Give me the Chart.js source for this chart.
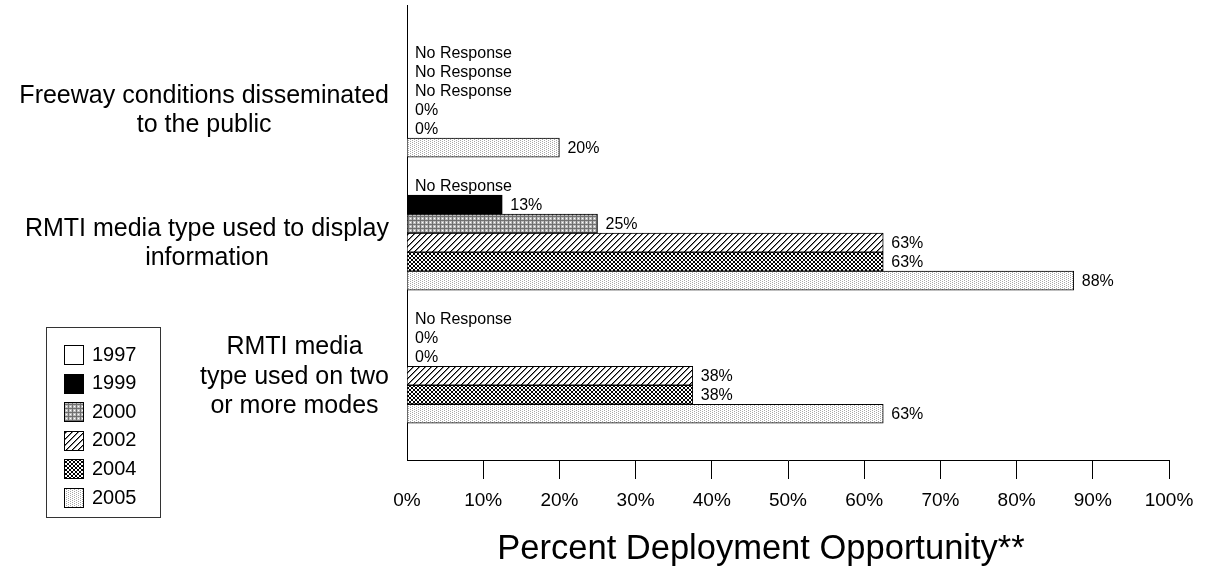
<!DOCTYPE html>
<html>
<head>
<meta charset="utf-8">
<script src="https://cdn.jsdelivr.net/npm/chart.js@4.4.0/dist/chart.umd.min.js"></script>
<style>
  html, body { margin: 0; padding: 0; background: #fff; }
  #wrap { width: 1208px; height: 569px; }
</style>
</head>
<body>
<div id="wrap"><canvas id="chart"></canvas></div>
<script>
// categories (one array of lines per label)
const categories = [
  ['Freeway conditions disseminated', 'to the public'],
  ['RMTI media type used to display', 'information'],
  ['RMTI media', 'type used on two', 'or more modes']
];
const years = ['1997', '1999', '2000', '2002', '2004', '2005'];

// percent of deployment opportunity, null = No Response
const v1997 = [null, null, null];
const v1999 = [null, 12.5, 0];
const v2000 = [null, 25, 0];
const v2002 = [0, 62.5, 37.5];
const v2004 = [0, 62.5, 37.5];
const v2005 = [20, 87.5, 62.5];
const seriesValues = [v1997, v1999, v2000, v2002, v2004, v2005];

const xTickValues = [0, 10, 20, 30, 40, 50, 60, 70, 80, 90, 100];
const xTitle = 'Percent Deployment Opportunity**';
const FONT = '"Liberation Sans", Arial, sans-serif';

const canvas = document.getElementById('chart');
const ctx = canvas.getContext('2d');

function makePattern(w, h, draw) {
  const c = document.createElement('canvas');
  c.width = w; c.height = h;
  const g = c.getContext('2d');
  g.fillStyle = '#fff';
  g.fillRect(0, 0, w, h);
  draw(g);
  return ctx.createPattern(c, 'repeat');
}

const fills = [
  '#ffffff',
  '#000000',
  makePattern(4, 4, g => {
    g.fillStyle = '#bcbcbc'; g.fillRect(0, 0, 4, 4);
    g.fillStyle = '#707070'; g.fillRect(0, 0, 4, 1); g.fillRect(0, 0, 1, 4);
    g.fillStyle = '#ffffff'; g.fillRect(2, 2, 1, 1);
  }),
  makePattern(6, 6, g => {
    g.fillStyle = '#000';
    for (let i = 0; i < 6; i++) g.fillRect(5 - i, i, 1, 1);
    g.fillStyle = '#808080';
    for (let i = 0; i < 6; i++) g.fillRect((6 - i) % 6, i, 1, 1);
  }),
  makePattern(4, 4, g => {
    g.fillStyle = '#000';
    for (let i = 0; i < 4; i++) {
      g.fillRect(i, i, 1, 1);
      g.fillRect(i, 3 - i, 1, 1);
    }
  }),
  makePattern(4, 2, g => {
    g.fillStyle = '#a8a8a8';
    g.fillRect(0, 0, 1, 1);
    g.fillRect(2, 1, 1, 1);
  })
];

const barLabels = {
  id: 'barLabels',
  afterDatasetsDraw(chart) {
    const c = chart.ctx;
    c.save();
    c.font = '16px ' + FONT;
    c.fillStyle = '#000';
    c.textBaseline = 'middle';
    c.textAlign = 'left';
    chart.data.datasets.forEach((ds, di) => {
      const meta = chart.getDatasetMeta(di);
      meta.data.forEach((el, i) => {
        const v = seriesValues[di][i];
        const txt = v === null ? 'No Response' : Math.round(v) + '%';
        c.fillText(txt, el.x + 8, el.y + 1);
      });
    });
    c.restore();
  }
};

const catLabels = {
  id: 'catLabels',
  afterDraw(chart) {
    const c = chart.ctx;
    const yScale = chart.scales.y;
    const right = chart.chartArea.left - 18;
    const lineH = 29.5;
    c.save();
    c.font = '25px ' + FONT;
    c.fillStyle = '#000';
    c.textBaseline = 'middle';
    c.textAlign = 'center';
    categories.forEach((lines, i) => {
      const maxW = Math.max(...lines.map(l => c.measureText(l).width));
      const cx = right - maxW / 2;
      const cy = yScale.getPixelForValue(i) + 10.5;
      const y0 = cy - (lines.length - 1) * lineH / 2;
      lines.forEach((l, j) => c.fillText(l, cx, y0 + j * lineH));
    });
    // axis title
    c.font = '34.5px ' + FONT;
    c.fillText(xTitle, 761, 549);
    c.restore();
  }
};

const boxLegend = {
  id: 'boxLegend',
  afterDraw(chart) {
    const c = chart.ctx;
    c.save();
    c.strokeStyle = '#333';
    c.lineWidth = 1;
    c.strokeRect(46.5, 327.5, 114, 190);
    c.font = '20px ' + FONT;
    c.textBaseline = 'middle';
    c.textAlign = 'left';
    years.forEach((yr, i) => {
      const cy = 355 + i * 28.6;
      c.fillStyle = fills[i];
      c.fillRect(64, Math.round(cy - 10), 20, 20);
      c.strokeStyle = '#000';
      c.strokeRect(64.5, Math.round(cy - 10) + 0.5, 19, 19);
      c.fillStyle = '#000';
      c.fillText(yr, 92, cy);
    });
    c.restore();
  }
};

new Chart(ctx, {
  type: 'bar',
  data: {
    datasets: years.map((yr, di) => ({
      label: yr,
      data: seriesValues[di].map((v, i) => ({ x: v, y: i })),
      backgroundColor: fills[di],
      borderColor: '#000',
      borderWidth: 1,
      barThickness: 19
    }))
  },
  options: {
    indexAxis: 'y',
    responsive: true,
    maintainAspectRatio: false,
    animation: false,
    layout: { padding: { top: 5, right: 39, left: 0, bottom: 0 } },
    scales: {
      x: {
        type: 'linear',
        min: 0,
        max: 100,
        afterBuildTicks: s => { s.ticks = xTickValues.map(v => ({ value: v })); },
        afterFit: s => { s.height = 109; },
        ticks: {
          color: '#000',
          font: { family: FONT, size: 19 },
          padding: 10,
          maxRotation: 0,
          callback: v => v + '%'
        },
        grid: {
          drawOnChartArea: false,
          tickLength: 19,
          color: c => (c.index === 0 ? 'rgba(0,0,0,0)' : '#000')
        },
        border: { display: true, color: '#000', width: 1 }
      },
      y: {
        type: 'linear',
        reverse: true,
        offset: false,
        min: -0.715,
        max: 2.705,
        afterFit: s => { s.width = 407; },
        ticks: { display: false },
        grid: { display: false },
        border: { display: true, color: '#000', width: 1 }
      }
    },
    plugins: {
      legend: { display: false },
      tooltip: { enabled: false }
    }
  },
  plugins: [barLabels, catLabels, boxLegend]
});
</script>
</body>
</html>
